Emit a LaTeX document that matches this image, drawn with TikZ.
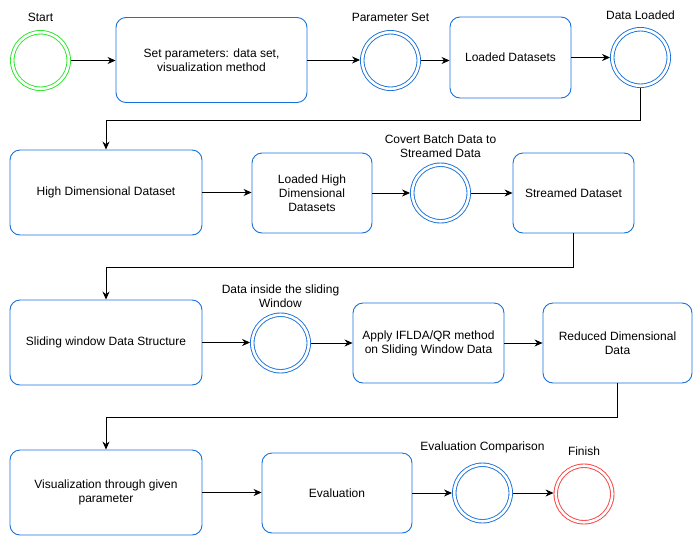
\documentclass[tikz,border=0pt]{standalone}
\usepackage{fontspec}
\setmainfont{Liberation Sans}
\usetikzlibrary{arrows.meta}
\definecolor{flowblue}{RGB}{24,112,218}
\definecolor{flowgreen}{RGB}{40,230,40}
\definecolor{flowred}{RGB}{250,60,60}
\begin{document}
\begin{tikzpicture}[x=1pt,y=-1pt,
  box/.style={draw=flowblue,line width=0.9pt,rounded corners=10pt,align=center,inner sep=2pt},
  ring/.style={circle,draw=#1,line width=0.9pt,double,double distance=2.6pt,minimum size=56.5pt,inner sep=0pt,outer sep=2.2pt},
  tag/.style={align=center,label distance=1pt},
  arr/.style={-{Stealth[length=8pt,width=7pt]},line width=0.8pt}]
\useasboundingbox (0,0) rectangle (693,536);
\fontsize{12}{14}\selectfont
\node[ring=flowgreen,label={[tag,yshift=3pt]above:Start}] (start) at (40.5,60.5) {};
\node[box,minimum width=191pt,minimum height=85pt] (setpar) at (211.5,60) {Set parameters: data set,\\visualization method};
\node[ring=flowblue,label={[tag,yshift=3pt]above:Parameter Set}] (parset) at (390.5,60.5) {};
\node[box,minimum width=121pt,minimum height=81pt] (loaded) at (510.5,57.5) {Loaded Datasets};
\node[ring=flowblue,label={[tag,yshift=2pt]above:Data Loaded}] (dataload) at (640.5,57.5) {};
\node[box,minimum width=192pt,minimum height=85pt] (highdim) at (106,192.5) {High Dimensional Dataset};
\node[box,minimum width=120pt,minimum height=80pt] (loadhigh) at (312,193) {Loaded High\\Dimensional\\Datasets};
\node[ring=flowblue,label={[tag]above:Covert Batch Data to\\Streamed Data}] (convert) at (440.5,193) {};
\node[box,minimum width=121pt,minimum height=80pt] (streamed) at (573.5,193) {Streamed Dataset};
\node[box,minimum width=192pt,minimum height=85pt] (sliding) at (106,342.5) {Sliding window Data Structure};
\node[ring=flowblue,label={[tag]above:Data inside the sliding\\Window}] (inside) at (280.5,343) {};
\node[box,minimum width=151pt,minimum height=80pt] (apply) at (428.5,343) {Apply IFLDA/QR method\\on Sliding Window Data};
\node[box,minimum width=149pt,minimum height=80pt] (reduced) at (617.5,343) {Reduced Dimensional\\Data};
\node[box,minimum width=192pt,minimum height=85pt] (visual) at (106,492.5) {Visualization through given\\parameter};
\node[box,minimum width=150pt,minimum height=80pt] (evaluation) at (337,493) {Evaluation};
\node[ring=flowblue,label={[tag,yshift=4pt]above:Evaluation Comparison}] (compare) at (482.5,493) {};
\node[ring=flowred,label={[tag,yshift=3pt]above:Finish}] (finish) at (584,494) {};
\foreach \a/\b in {start/setpar,setpar/parset,parset/loaded,loaded/dataload,
  highdim/loadhigh,loadhigh/convert,convert/streamed,
  sliding/inside,inside/apply,apply/reduced,
  visual/evaluation,evaluation/compare,compare/finish}
{
    \draw[arr] (\a.east) -- (\a.east -| \b.west);
}
\draw[arr] (dataload.south) -- ++(0,32) -| (highdim.north);
\draw[arr] (streamed.south) -- ++(0,34) -| (sliding.north);
\draw[arr] (reduced.south) -- ++(0,34) -| (visual.north);
\end{tikzpicture}
\end{document}
